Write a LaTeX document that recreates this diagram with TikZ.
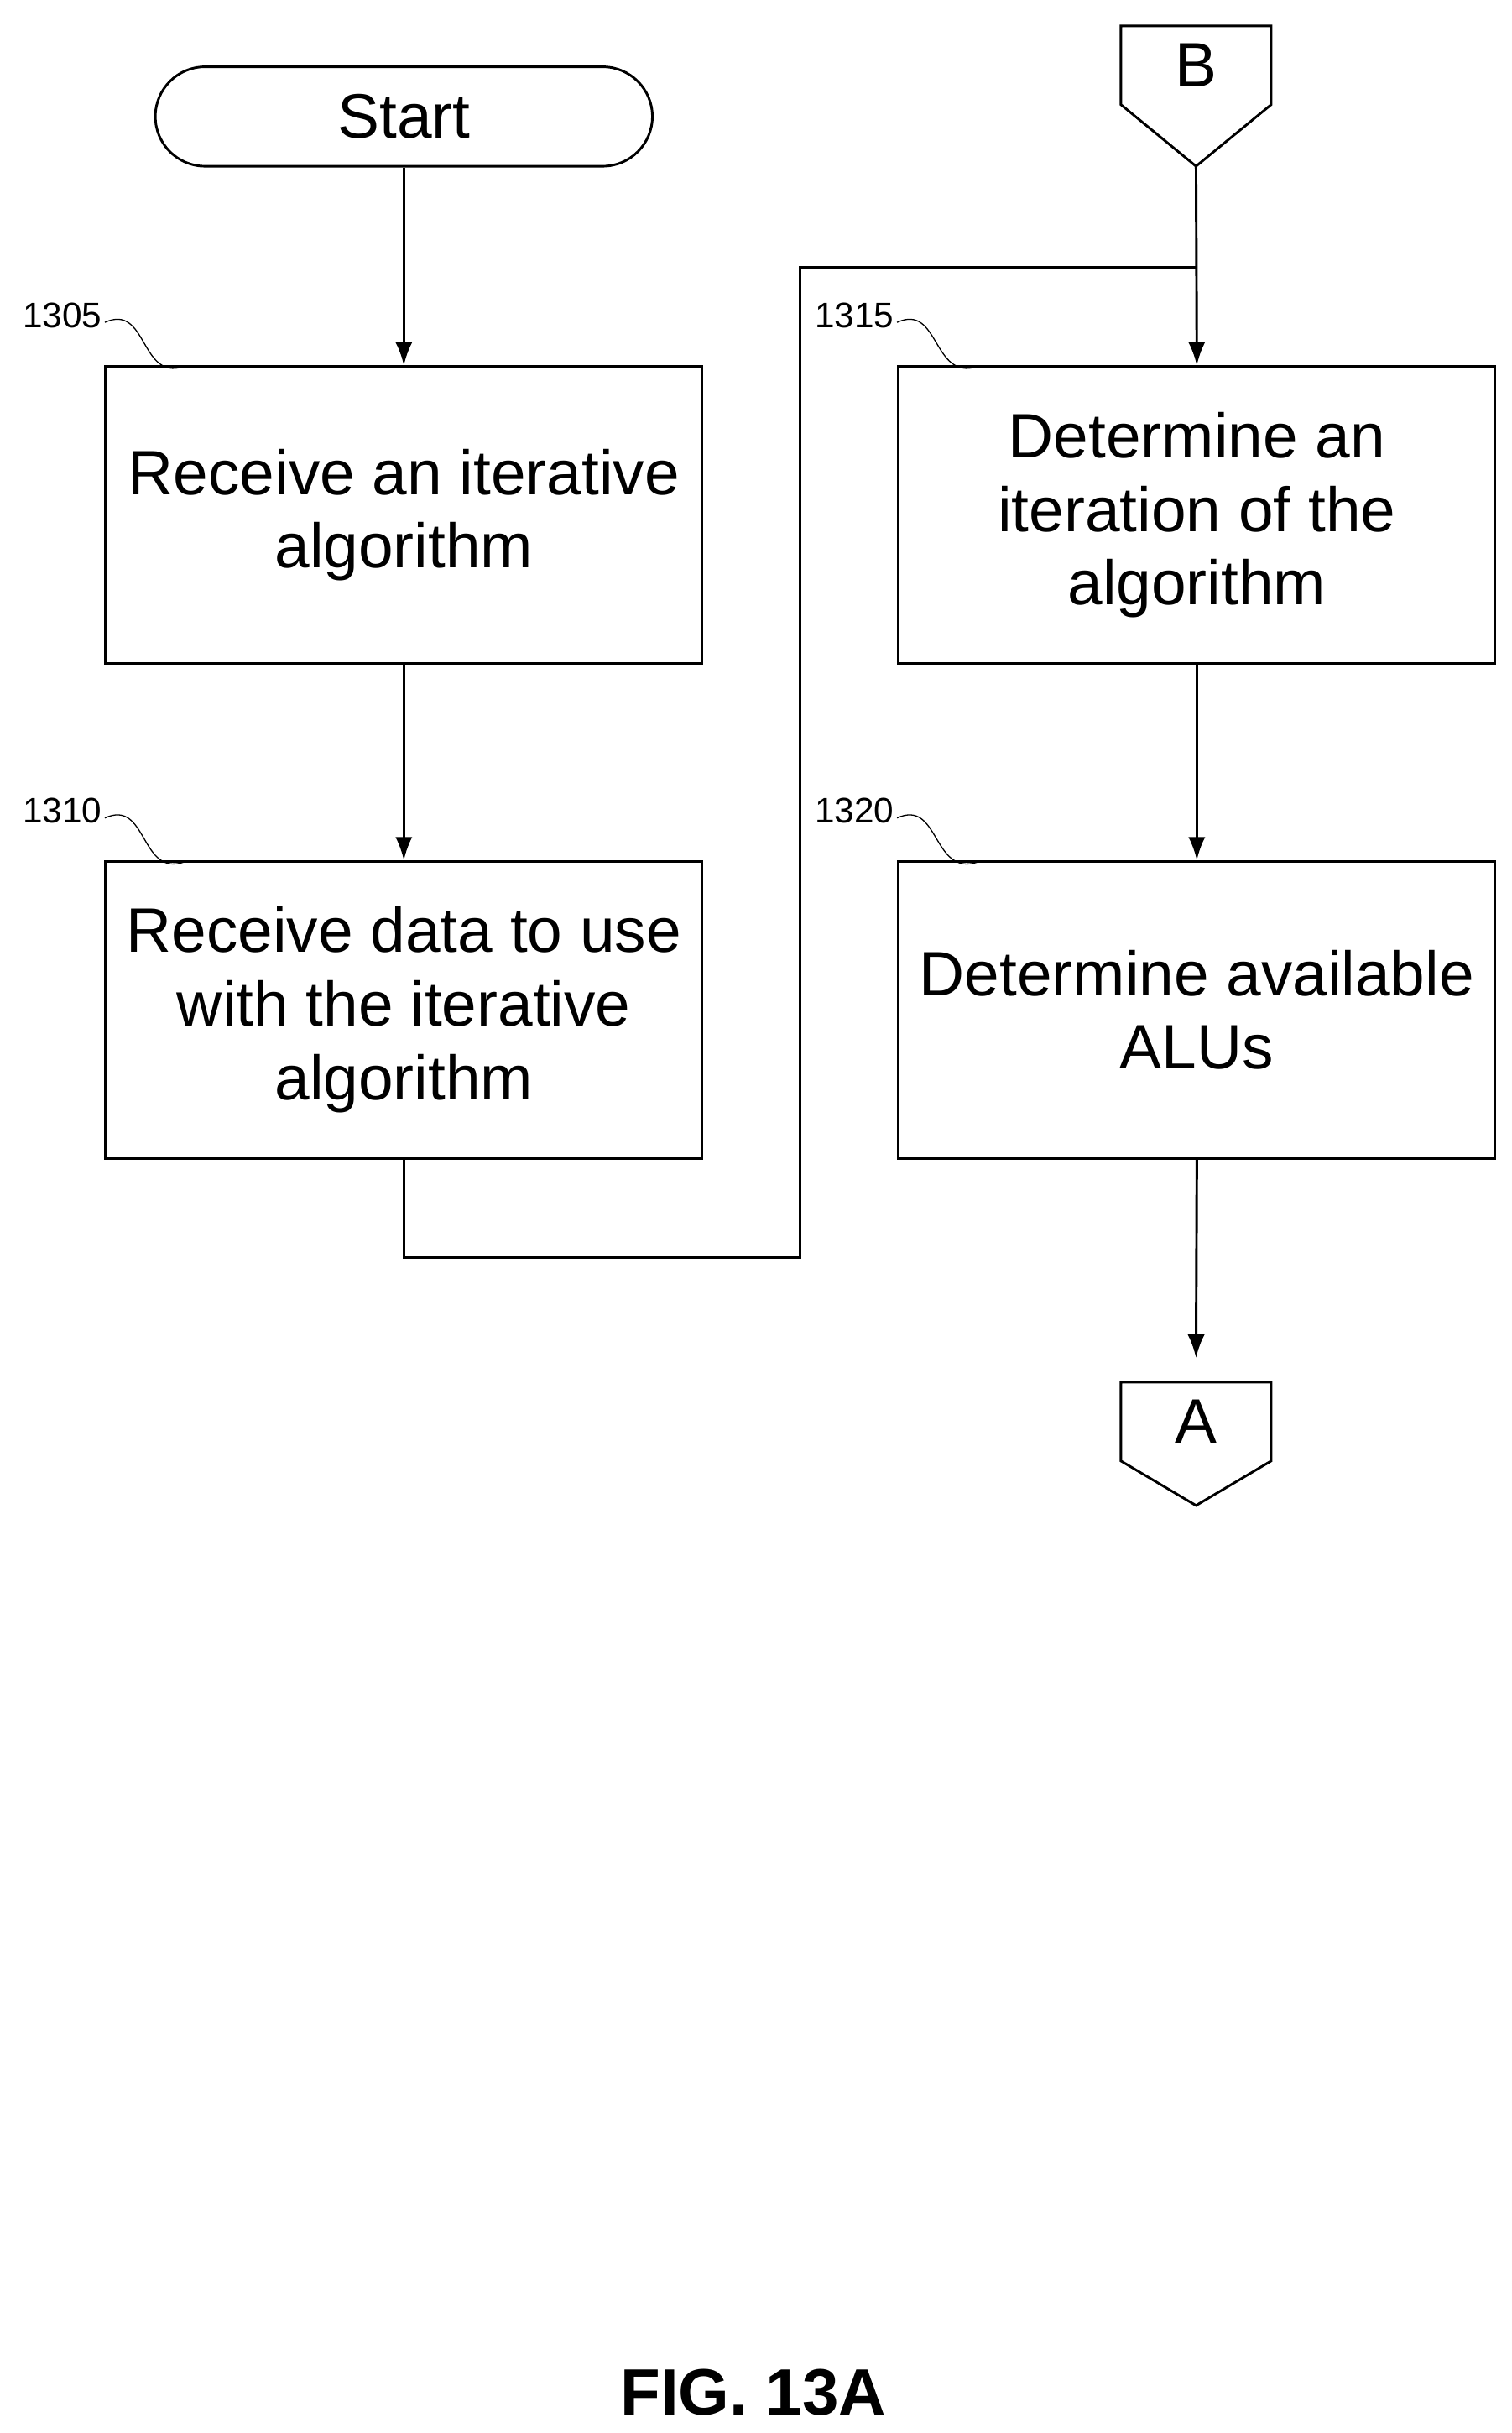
\documentclass[tikz,border=0pt]{standalone}
\usepackage{fontspec}
\setmainfont{Liberation Sans}
\usetikzlibrary{positioning,arrows.meta}

\tikzset{
procbox/.style={draw, minimum width=7.68cm, minimum height=3.82cm, align=center, font=\fontsize{23}{27}\selectfont, line width=0.9pt},
term/.style={draw, rounded corners=0.64cm, minimum width=6.4cm, minimum height=1.28cm, font=\fontsize{23}{27}\selectfont, line width=0.9pt},
conn/.style={minimum width=1.92cm, minimum height=1cm, inner sep=0pt, font=\fontsize{23}{27}\selectfont},
ref/.style={font=\fontsize{13}{15}\selectfont},
flow/.style={-{Latex[length=0.3cm,width=0.22cm]}, line width=0.9pt}
}

\begin{document}
\begin{tikzpicture}
\useasboundingbox (0,0) rectangle (19.46,-31.32);

\node[term] (start) at(5.2,-1.5) {Start};
\node[procbox] (s1305) at(5.2,-6.63) {Receive an iterative\\algorithm};
\node[procbox] (s1310) at(5.2,-13) {Receive data to use\\with the iterative\\algorithm};
\node[procbox] (s1315) at(15.41,-6.63) {Determine an\\iteration of the\\algorithm};
\node[procbox] (s1320) at(15.41,-13) {Determine available\\ALUs};

% off-page connectors
\node[conn] (B) at(15.4,-0.84) {B};
\draw[line width=0.9pt] (B.south west) |- (B.north east) -- (B.south east) -- (15.4,-2.14) -- cycle;
\node[conn] (A) at(15.4,-18.3) {A};
\draw[line width=0.9pt] (A.south west) |- (A.north east) -- (A.south east) -- (15.4,-19.38) -- cycle;
\coordinate (Btip) at(15.4,-2.14);
\coordinate (Atop) at(15.4,-17.48);
\coordinate (join) at(15.4,-3.44);

\draw[flow] (start) -- (s1305);
\draw[flow] (s1305) -- (s1310);
\draw[line width=0.9pt] (s1310.south) -- ++(0,-1.26) -| (10.3,-3.44) -- (join);
\draw[flow] (Btip) -- (s1315.north);
\draw[flow] (s1315) -- (s1320);
\draw[flow] (s1320.south) -- (Atop);

% reference numerals
\node[ref] (r1305) at(0.8,-4.06) {1305};
\draw (1.35,-4.15) .. controls (1.9,-3.9) and (1.8,-4.9) .. (2.36,-4.72);
\node[ref] (r1310) at(0.8,-10.44) {1310};
\draw (1.35,-10.53) .. controls (1.9,-10.28) and (1.8,-11.28) .. (2.36,-11.1);
\node[ref] (r1315) at(11.0,-4.06) {1315};
\draw (11.55,-4.15) .. controls (12.1,-3.9) and (12.0,-4.9) .. (12.58,-4.72);
\node[ref] (r1320) at(11.0,-10.44) {1320};
\draw (11.55,-10.53) .. controls (12.1,-10.28) and (12.0,-11.28) .. (12.58,-11.1);

\node[font=\fontsize{24}{28}\selectfont\bfseries] (fig) at(9.7,-30.8) {FIG. 13A};
\end{tikzpicture}
\end{document}
